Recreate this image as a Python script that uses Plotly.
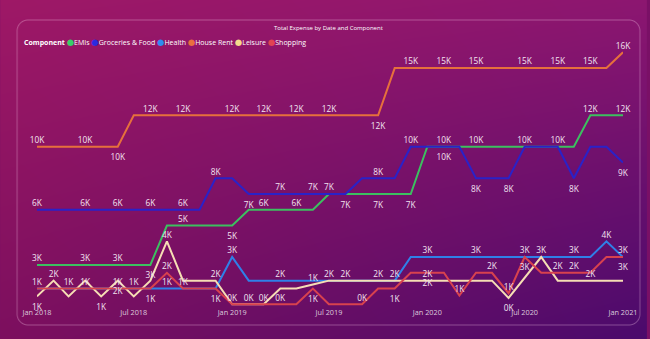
import base64, zlib, struct, math
import pandas as pd
import plotly.graph_objects as go

W, H = 650, 339
L, R, T, B = 37, 24, 46, 30
PW, PH = W - L - R, H - T - B

# ---------------- data ----------------
months = pd.date_range("2018-01-01", "2021-01-01", freq="MS")

emis = [2500, 2500, 2500, 2500, 2500, 2500, 2500, 2500, 5000, 5000, 5000, 5000,
        5000, 6000, 6000, 6000, 6000, 6000, 7000, 7000, 7000, 7000, 7000, 7000,
        10000, 10000, 10000, 10000, 10000, 10000, 10000, 10000, 10000, 10000, 12000, 12000,
        12000]
groceries = [6000, 6000, 6000, 6000, 6000, 6000, 6000, 6000, 6000, 6000, 6000, 8000,
             8000, 7000, 7000, 7000, 7000, 7000, 7000, 7000, 8000, 8000, 8000, 10000,
             10000, 10000, 10000, 8000, 8000, 8000, 10000, 10000, 10000, 8000, 10000, 10000,
             9000]
health = [1000, 1000, 1000, 1000, 1000, 1000, 1000, 1000, 1000, 1000, 1000, 1000,
          3000, 1500, 1500, 1500, 1500, 1500, 1500, 1500, 1500, 1500, 1500, 3000,
          3000, 3000, 3000, 3000, 3000, 3000, 3000, 3000, 3000, 3000, 3000, 4000,
          3000]
house_rent = [10000, 10000, 10000, 10000, 10000, 10000, 12000, 12000, 12000, 12000, 12000, 12000,
              12000, 12000, 12000, 12000, 12000, 12000, 12000, 12000, 12000, 12000, 15000, 15000,
              15000, 15000, 15000, 15000, 15000, 15000, 15000, 15000, 15000, 15000, 15000, 15000,
              16000]
leisure = [500, 1500, 500, 1500, 500, 1500, 500, 1500, 4000, 1500, 1500, 1500,
           0, 0, 0, 1000, 1000, 1250, 1500, 1500, 1500, 1500, 1500, 1500,
           1500, 1500, 1500, 1500, 1500, 400, 1700, 3000, 1500, 1500, 1500, 1500,
           1500]
shopping = [1000, 1000, 1000, 1000, 1000, 1000, 1000, 1000, 2000, 1000, 1000, 1000,
            0, 0, 0, 0, 0, 1000, 0, 0, 0, 1000, 1000, 2000,
            2000, 2000, 550, 2000, 2000, 700, 3000, 2000, 2000, 2000, 2000, 3000,
            3000]

series_names = ["EMIs", "Groceries & Food", "Health", "House Rent", "Leisure", "Shopping"]
series_vals = [emis, groceries, health, house_rent, leisure, shopping]
colors = ["#3CC060", "#2A22C8", "#2F80E8", "#E6703C", "#F6DEB4", "#D8424E"]
dot_colors = ["#37D068", "#2B2BE0", "#2F8CF0", "#E8703F", "#F5D98C", "#E04452"]

# which month indices show a data label, and where
label_top = {
    "EMIs": [0, 3, 5, 9, 14, 16, 25, 27, 30, 32, 34, 36],
    "Groceries & Food": [0, 3, 5, 7, 9, 11, 15, 17, 18, 21, 23],
    "Health": [8, 9, 12, 15, 22, 24, 27, 30, 33, 35, 36],
    "House Rent": [0, 3, 7, 9, 12, 14, 16, 18, 23, 25, 27, 30, 32, 34, 36],
    "Leisure": [1, 8, 11, 17, 18, 19, 21, 24, 31, 34],
    "Shopping": [0, 2, 3, 5, 6, 8, 12, 13, 14, 15, 20, 26, 28, 29, 32, 33],
}
label_bottom = {
    "EMIs": [7, 12, 19, 21, 23],
    "Groceries & Food": [13, 25, 27, 29, 33, 36],
    "Health": [],
    "House Rent": [5, 21],
    "Leisure": [0, 4, 5, 29],
    "Shopping": [7, 11, 17, 22, 24, 30, 36],
}

# ---------------- background (gradient + panel border) ----------------
def bg_data_uri():
    tl, tr, bl, br = (158, 24, 102), (140, 22, 112), (124, 15, 94), (74, 10, 108)
    x0, y0, x1, y1, rad = 17, 20, 643, 325, 11
    cx, cy = (x0 + x1) / 2, (y0 + y1) / 2
    hx, hy = (x1 - x0) / 2, (y1 - y0) / 2
    rows = []
    for y in range(H):
        v = y / (H - 1)
        row = bytearray([0])
        for x in range(W):
            u = x / (W - 1)
            c = [tl[k] * (1 - u) * (1 - v) + tr[k] * u * (1 - v) + bl[k] * (1 - u) * v + br[k] * u * v
                 for k in range(3)]
            qx = abs(x + 0.5 - cx) - hx + rad
            qy = abs(y + 0.5 - cy) - hy + rad
            d = math.hypot(max(qx, 0), max(qy, 0)) + min(max(qx, qy), 0) - rad
            a = 0.32 * max(0.0, 1 - abs(d))
            if a > 0:
                c = [c[k] * (1 - a) + (255, 210, 240)[k] * a for k in range(3)]
            row += bytes(int(round(cc)) for cc in c)
        rows.append(bytes(row))
    raw = b"".join(rows)

    def chunk(tag, data):
        return struct.pack(">I", len(data)) + tag + data + struct.pack(">I", zlib.crc32(tag + data) & 0xffffffff)
    png = b"\x89PNG\r\n\x1a\n" + chunk(b"IHDR", struct.pack(">IIBBBBB", W, H, 8, 2, 0, 0, 0)) \
        + chunk(b"IDAT", zlib.compress(raw, 9)) + chunk(b"IEND", b"")
    return "data:image/png;base64," + base64.b64encode(png).decode()


def px_x(px):
    return (px - L) / PW


def px_y(py):
    return 1 - (py - T) / PH


def klabel(v):
    return f"{int(math.floor(v / 1000 + 0.5))}K"


FONT = "Segoe UI, Open Sans, sans-serif"

fig = go.Figure()

for name, vals, col in zip(series_names, series_vals, colors):
    fig.add_trace(go.Scatter(x=months, y=vals, mode="lines", name=name,
                             line=dict(color=col, width=2), showlegend=False, hoverinfo="skip"))

for name, vals in zip(series_names, series_vals):
    for where, idx, msize in (("top center", label_top[name], 1), ("bottom center", label_bottom[name], 10)):
        if not idx:
            continue
        fig.add_trace(go.Scatter(
            x=[months[i] for i in idx], y=[vals[i] for i in idx],
            text=[klabel(vals[i]) for i in idx], textposition=where,
            mode="markers+text", marker=dict(size=msize, opacity=0),
            textfont=dict(family=FONT, size=8.3, color="#F3E4F1"),
            cliponaxis=False, showlegend=False, hoverinfo="skip"))

legend_html = "<b>Component</b> " + " ".join(
    f"<span style='color:{c};font-family:DejaVu Sans;font-size:8.5px'>●</span>{n.replace('&', '&amp;')}"
    for n, c in zip(series_names, dot_colors))

fig.update_layout(
    width=W, height=H,
    margin=dict(l=L, r=R, t=T, b=B, pad=0),
    paper_bgcolor="#7A1066", plot_bgcolor="rgba(0,0,0,0)",
    images=[dict(source=bg_data_uri(), xref="paper", yref="paper",
                 x=px_x(0), y=px_y(0), sizex=W / PW, sizey=H / PH,
                 xanchor="left", yanchor="top", sizing="stretch", layer="below")],
    xaxis=dict(type="date", range=["2018-01-01", "2021-01-01"], tick0="2018-01-01", dtick="M6",
               tickformat="%b %Y", showgrid=False, zeroline=False, showline=False,
               ticks="", ticklabelstandoff=-2,
               tickfont=dict(family=FONT, size=7.3, color="#DCCBDC")),
    yaxis=dict(range=[-300, 16400], visible=False, showgrid=False, zeroline=False),
    annotations=[
        dict(text="Total Expense by Date and Component", xref="paper", yref="paper",
             x=px_x(330), y=px_y(28), xanchor="center", yanchor="middle", showarrow=False,
             font=dict(family=FONT, size=6, color="#FFFFFF")),
        dict(text=legend_html, xref="paper", yref="paper",
             x=px_x(22), y=px_y(42), xanchor="left", yanchor="middle", showarrow=False,
             font=dict(family=FONT, size=7, color="#FFFFFF")),
    ],
    showlegend=False,
)

fig.write_html("out.html")
